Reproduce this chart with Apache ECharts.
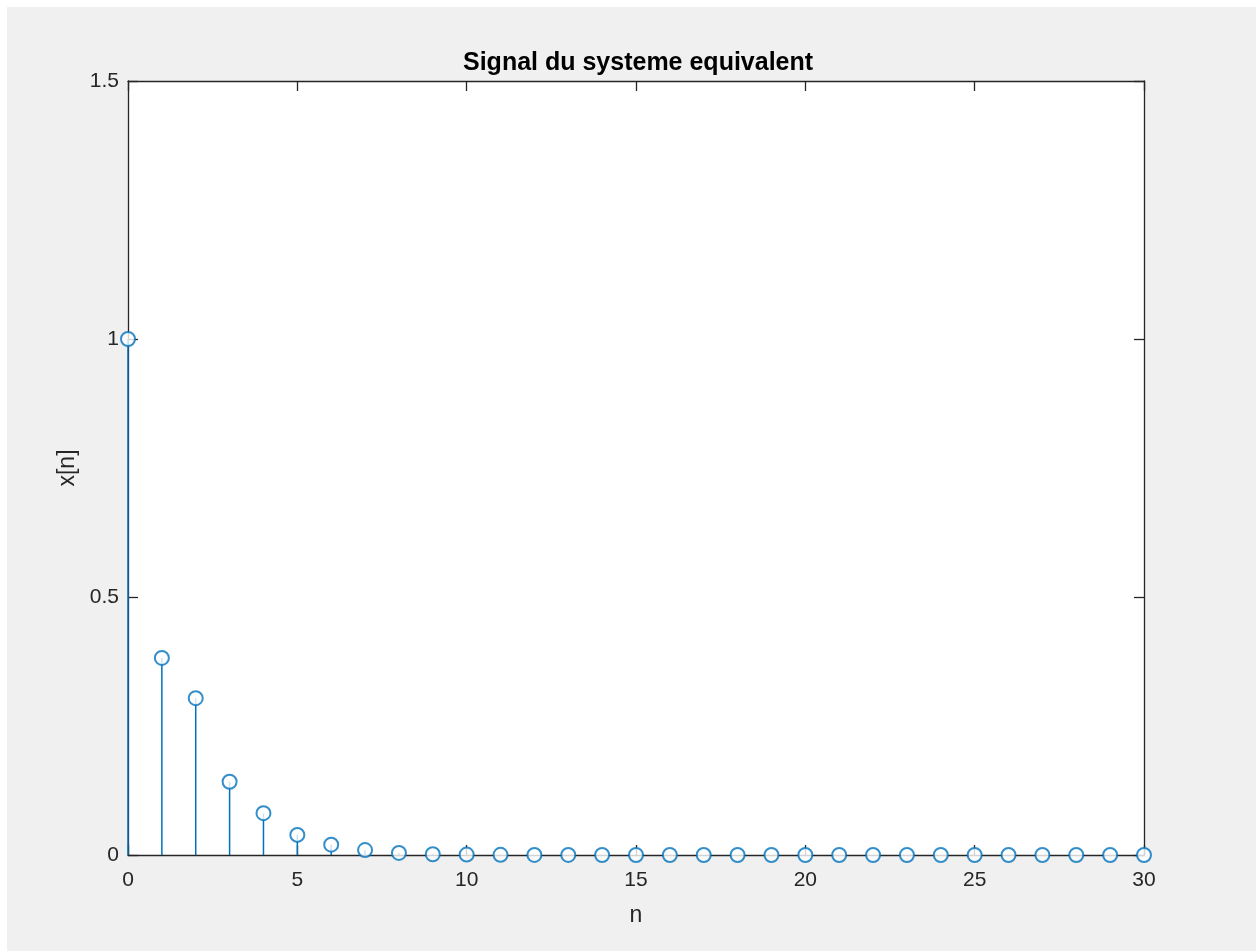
<!DOCTYPE html>
<html>
<head>
<meta charset="utf-8">
<script src="https://cdn.jsdelivr.net/npm/echarts@6/dist/echarts.min.js"></script>
<style>
html,body{margin:0;padding:0;background:#ffffff;width:1256px;height:951px;overflow:hidden;}
#chart{position:absolute;left:7px;top:7px;width:1249px;height:944px;background:#f0f0f0;}
</style>
</head>
<body>
<div id="chart"></div>
<script>
// Data
const titleText = 'Signal du systeme equivalent';
const xLabel = 'n';
const yLabel = 'x[n]';
const nValues = [0,1,2,3,4,5,6,7,8,9,10,11,12,13,14,15,16,17,18,19,20,21,22,23,24,25,26,27,28,29,30];
const xValues = [1.0,0.382,0.304,0.142,0.081,0.039,0.020,0.0095,0.004,0.0015,0.0008,0.0004,0.0002,0.0001,0,0,0,0,0,0,0,0,0,0,0,0,0,0,0,0,0];
const xTicks = [0,5,10,15,20,25,30];
const yTicks = [0,0.5,1,1.5];

const points = nValues.map((n,i)=>[n, xValues[i]]);
const blue = '#0072BD';
const axisCol = '#262626';
const fontFam = '"Liberation Sans", Arial, Helvetica, sans-serif';

const chart = echarts.init(document.getElementById('chart'));
const common = {
  type:'value', silent:true,
  axisLine:{show:true, onZero:false, lineStyle:{color:axisCol, width:1.3}},
  axisTick:{show:true, inside:true, length:10, lineStyle:{color:axisCol, width:1.3}},
  splitLine:{show:false}
};
chart.setOption({
  animation:false,
  backgroundColor:'#f0f0f0',
  grid:{left:121, right:112, top:74, bottom:96, show:true, backgroundColor:'#ffffff', borderWidth:0},
  graphic:[{
    type:'text', left: 456, top: 44,
    style:{text:titleText, font:'bold 25px ' + fontFam, fill:'#000000'}
  }],
  xAxis:[
    Object.assign({}, common, {
      position:'bottom', min:0, max:30, interval:5,
      axisLabel:{show:true, margin:15, fontSize:21, color:axisCol, fontFamily:fontFam,
        formatter:v=>xTicks.includes(v)?String(v):''},
      name:xLabel, nameLocation:'middle', nameGap:49,
      nameTextStyle:{fontSize:23, color:axisCol, fontFamily:fontFam}
    }),
    Object.assign({}, common, {
      position:'top', min:0, max:30, interval:5, axisLabel:{show:false}
    })
  ],
  yAxis:[
    Object.assign({}, common, {
      position:'left', min:0, max:1.5, interval:0.5,
      axisLabel:{show:true, margin:9, fontSize:21, color:axisCol, fontFamily:fontFam,
        formatter:v=>yTicks.includes(v)?String(v):''},
      name:yLabel, nameLocation:'middle', nameGap:48, nameRotate:90,
      nameTextStyle:{fontSize:23, color:axisCol, fontFamily:fontFam}
    }),
    Object.assign({}, common, {
      position:'right', min:0, max:1.5, interval:0.5, axisLabel:{show:false}
    })
  ],
  series:[
    {
      type:'custom', xAxisIndex:0, yAxisIndex:0, clip:false, z:3,
      data:points,
      renderItem:function(params, api){
        const p0 = api.coord([api.value(0), 0]);
        const p1 = api.coord([api.value(0), api.value(1)]);
        return {type:'line', shape:{x1:p0[0], y1:p0[1], x2:p1[0], y2:p1[1]},
          style:{stroke:blue, lineWidth:1.5}};
      }
    },
    {
      type:'scatter', xAxisIndex:0, yAxisIndex:0, clip:false, z:4,
      data:points, symbol:'emptyCircle', symbolSize:14,
      itemStyle:{color:blue, borderColor:blue, borderWidth:1.5},
      silent:true
    }
  ]
});
</script>
</body>
</html>
